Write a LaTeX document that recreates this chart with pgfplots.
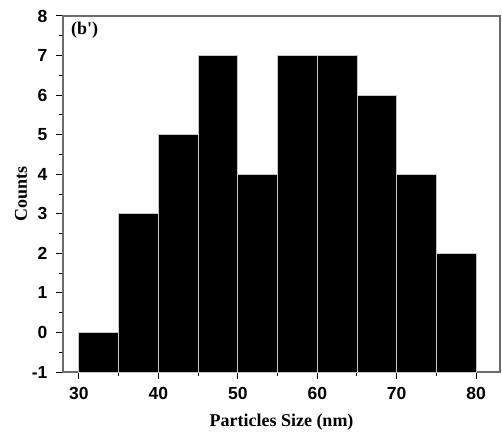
\documentclass[border=0pt]{standalone}
\usepackage{pgfplots}
\pgfplotsset{compat=1.18}
\usepackage{fontspec}
\setmainfont{Liberation Serif}
\setsansfont{Liberation Sans}
\usetikzlibrary{calc}
\definecolor{barsep}{gray}{0.78}
\definecolor{frame}{gray}{0.42}
\begin{document}
\begin{tikzpicture}
\begin{axis}[
  name=ax,
  scale only axis,
  width=437pt, height=356pt,
  xmin=28, xmax=83, ymin=-1, ymax=8,
  axis line style={frame, line width=1.2pt},
  xtick={30,40,...,80}, minor xtick={35,45,...,75},
  ytick={-1,0,...,8}, minor ytick={-0.5,0.5,...,7.5},
  tick pos=left, tick align=outside,
  major tick length=7pt, minor tick length=4pt,
  every tick/.style={black, line width=1pt},
  tick label style={font=\sffamily\bfseries\fontsize{17.5}{17.5}\selectfont},
  /pgf/number format/assume math mode=true,
  xticklabel style={yshift=-5pt},
  yticklabel style={xshift=-5pt},
  xlabel={\bfseries Particles Size (nm)},
  ylabel={\bfseries Counts},
  label style={font=\fontsize{18}{18}\selectfont},
  xlabel style={yshift=-7pt},
  ylabel style={yshift=-2pt},
  bar/.style={fill=black, draw=barsep, line width=0.9pt, mark=none, solid},
]
\addplot[bar] coordinates {(30,-1) (30,0) (35,0) (35,-1)} -- cycle;
\addplot[bar] coordinates {(35,-1) (35,3) (40,3) (40,-1)} -- cycle;
\addplot[bar] coordinates {(40,-1) (40,5) (45,5) (45,-1)} -- cycle;
\addplot[bar] coordinates {(45,-1) (45,7) (50,7) (50,-1)} -- cycle;
\addplot[bar] coordinates {(50,-1) (50,4) (55,4) (55,-1)} -- cycle;
\addplot[bar] coordinates {(55,-1) (55,7) (60,7) (60,-1)} -- cycle;
\addplot[bar] coordinates {(60,-1) (60,7) (65,7) (65,-1)} -- cycle;
\addplot[bar] coordinates {(65,-1) (65,6) (70,6) (70,-1)} -- cycle;
\addplot[bar] coordinates {(70,-1) (70,4) (75,4) (75,-1)} -- cycle;
\addplot[bar] coordinates {(75,-1) (75,2) (80,2) (80,-1)} -- cycle;
\node[anchor=north west, font=\bfseries\fontsize{18}{18}\selectfont, inner sep=0pt] at (rel axis cs:0.018,0.985) {(b\textquotesingle)};
\end{axis}
\pgfresetboundingbox
\path ($(ax.south west)+(-63pt,-67pt)$) rectangle ($(ax.north east)+(2pt,16pt)$);
\end{tikzpicture}
\end{document}
